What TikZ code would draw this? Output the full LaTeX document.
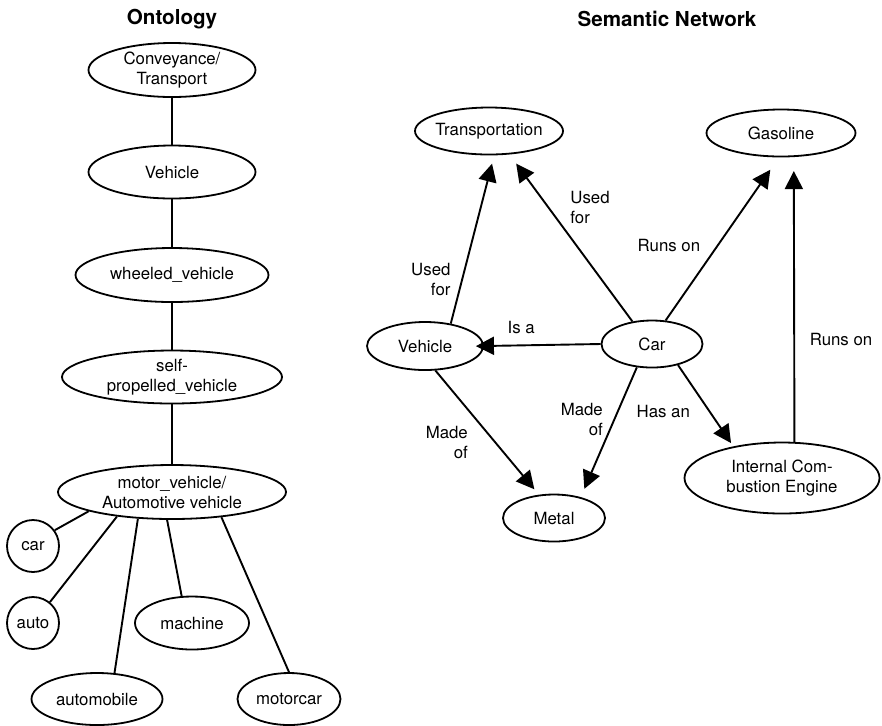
\documentclass[tikz,border=0pt]{standalone}
\usepackage{fontspec}
\setmainfont{TeX Gyre Heros}
\usetikzlibrary{shapes.geometric,arrows.meta}

\tikzset{
	concept/.style={draw, ellipse, line width=0.9pt, inner sep=0pt, align=center,
		font=\fontsize{8.4}{10}\selectfont},
	term/.style={draw, circle, line width=0.9pt, inner sep=0pt, minimum size=26pt,
		font=\fontsize{8.4}{10}\selectfont},
	title/.style={font=\fontsize{10.3}{12}\selectfont\bfseries},
	link/.style={line width=0.95pt},
	rel/.style={line width=0.95pt, -{Triangle[length=9pt,width=9pt]}},
	lbl/.style={font=\fontsize{8.4}{10}\selectfont}
}

\begin{document}
\begin{tikzpicture}[x=0.5pt,y=-0.5pt]
				\useasboundingbox (0,0) rectangle (882,725);
				% ontology tree
				\node[title] (onto) at (172,19) {Ontology};
				\node[concept, minimum width=83.5pt, minimum height=27pt] (conv) at (172,70) {Conveyance/\\Transport};
				\node[concept, minimum width=83.5pt, minimum height=26.5pt] (veh) at (172,172) {Vehicle};
				\node[concept, minimum width=96.5pt, minimum height=27pt] (wheel) at (172,275) {wheeled\_vehicle};
				\node[concept, minimum width=110pt, minimum height=26.5pt] (selfprop) at (172,377) {self-\\propelled\_vehicle};
				\node[concept, minimum width=114pt, minimum height=27pt] (motor) at (172,492) {motor\_vehicle/\\Automotive vehicle};
				\node[term] (car) at (33,546) {car};
				\node[term] (auto) at (33,623) {auto};
				\node[concept, minimum width=57pt, minimum height=26.5pt] (machine) at (192,623) {machine};
				\node[concept, minimum width=65.5pt, minimum height=26pt] (automobile) at (97,699) {automobile};
				\node[concept, minimum width=51.5pt, minimum height=26pt] (motorcar) at (289,699) {motorcar};
				\draw[link] (conv) -- (veh) -- (wheel) -- (selfprop) -- (motor);
				\draw[link] (motor.193) -- (car.36);
				\draw[link] (motor.204) -- (auto.51);
				\draw[link] (motor.218) -- (automobile.56);
				\draw[link] (motor.260) -- (machine.111);
				\draw[link] (motor.333) -- (motorcar.north);
				% semantic network
				\node[title] (semnet) at (667,19) {Semantic Network};
				\node[concept, minimum width=74pt, minimum height=23.5pt, inner xsep=-2pt] (trans) at (489,131) {Transportation};
				\node[concept, minimum width=74.5pt, minimum height=23.5pt] (gas) at (781,133) {Gasoline};
				\node[concept, minimum width=58pt, minimum height=24pt] (sveh) at (425,346) {Vehicle};
				\node[concept, minimum width=50.5pt, minimum height=23.5pt] (scar) at (652,344) {Car};
				\node[concept, minimum width=51pt, minimum height=23.5pt] (metal) at (554,518) {Metal};
				\node[concept, minimum width=97.5pt, minimum height=35.5pt] (ice) at (782,478) {Internal Com-\\bustion Engine};
				\path[lbl]
				(sveh.41) edge[rel, shorten >=4.3pt] node[pos=0.26, left, align=right, xshift=-2pt] {Used\\for} (trans.282)
				(scar.131) edge[rel, shorten >=5.7pt] node[pos=0.68, right, align=left, xshift=7pt] {Used\\for} (trans.311)
				(scar.60) edge[rel, shorten >=7.5pt] node[pos=0.46, left, xshift=-5pt] {Runs on} (gas.265)
				(ice.71) edge[rel, shorten >=7pt] node[pos=0.36, right, xshift=4pt] {Runs on} (gas.298)
				(scar.west) edge[rel, shorten >=-4pt] node[pos=0.68, above=2pt] {Is a} (sveh.east)
				(sveh.293) edge[rel, shorten >=3.5pt] node[pos=0.58, left, align=right, xshift=-10pt] {Made\\of} (metal.123)
				(scar.237) edge[rel, shorten >=4.5pt] node[pos=0.4, left, align=right, xshift=-2pt] {Made\\of} (metal.38)
				(scar.321) edge[rel, shorten >=2pt] node[pos=0.57, left, xshift=-6pt] {Has an} (ice.147);
			\end{tikzpicture}
\end{document}
